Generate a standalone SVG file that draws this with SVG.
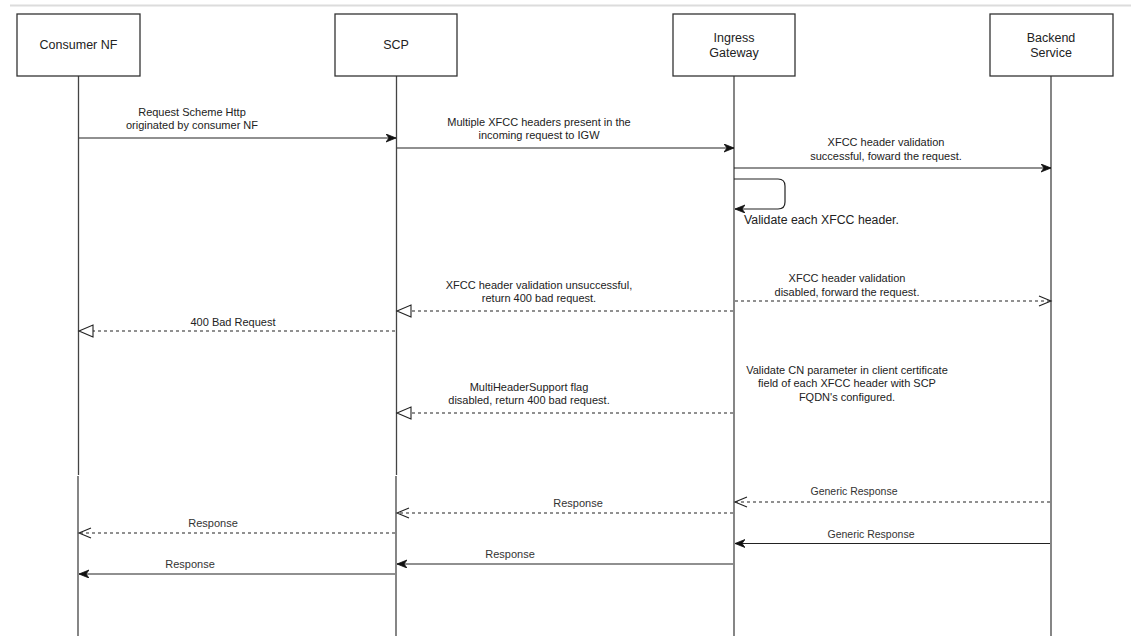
<svg xmlns="http://www.w3.org/2000/svg" width="1131" height="644" viewBox="0 0 1131 644">
<style>
  .box { fill: #ffffff; stroke: #333333; stroke-width: 1.3; }
  .life { stroke: #444444; stroke-width: 1.3; fill: none; }
  .msg { stroke: #222222; stroke-width: 1.2; fill: none; }
  .dash { stroke-dasharray: 3 3; }
  .nt { font-family: "Liberation Sans", Arial, sans-serif; font-size: 12.5px; fill: #222222; text-anchor: middle; }
  .lb { font-family: "Liberation Sans", Arial, sans-serif; font-size: 11px; fill: #222222; text-anchor: middle; }
  .sm { font-family: "Liberation Sans", Arial, sans-serif; font-size: 11px; fill: #333333; text-anchor: middle; }
  .gr { font-family: "Liberation Sans", Arial, sans-serif; font-size: 10.5px; fill: #333333; text-anchor: middle; }
</style>
<defs>
  <marker id="fill" markerUnits="userSpaceOnUse" markerWidth="12" markerHeight="10" refX="10" refY="4" orient="auto">
    <path d="M0,0 L10,4 L0,8 L3,4 Z" fill="#111111" stroke="#111111" stroke-width="0.8"/>
  </marker>
  <marker id="tri" markerUnits="userSpaceOnUse" markerWidth="18" markerHeight="16" refX="15" refY="7" orient="auto">
    <path d="M1,1 L15,7 L1,13 Z" fill="#ffffff" stroke="#222222" stroke-width="1.1"/>
  </marker>
  <marker id="open" markerUnits="userSpaceOnUse" markerWidth="16" markerHeight="14" refX="13" refY="6" orient="auto">
    <path d="M1,1 L13,6 L1,11" fill="none" stroke="#222222" stroke-width="1.1"/>
  </marker>
</defs>
<rect width="1131" height="644" fill="#ffffff"/>
<line x1="10" y1="5.5" x2="1131" y2="5.5" stroke="#dcdcdc" stroke-width="2"/>

<g id="lifelines">
  <line class="life" x1="78.5" y1="76" x2="78.5" y2="475"/>
  <line class="life" x1="78" y1="476" x2="78" y2="636"/>
  <line class="life" x1="396.5" y1="76" x2="396.5" y2="475"/>
  <line class="life" x1="396" y1="476" x2="396" y2="636"/>
  <line class="life" x1="734" y1="76" x2="734" y2="636"/>
  <line class="life" x1="1051" y1="76" x2="1051" y2="636"/>
</g>

<g id="consumer-nf">
  <rect class="box" x="17" y="14" width="123" height="62"/>
  <text class="nt" x="78.5" y="49">Consumer NF</text>
</g>
<g id="scp">
  <rect class="box" x="335" y="14" width="122" height="62"/>
  <text class="nt" x="396" y="49">SCP</text>
</g>
<g id="ingress-gateway">
  <rect class="box" x="673" y="14" width="122" height="62"/>
  <text class="nt" x="734" y="42">Ingress</text>
  <text class="nt" x="734" y="57">Gateway</text>
</g>
<g id="backend-service">
  <rect class="box" x="990" y="14" width="123" height="62"/>
  <text class="nt" x="1051" y="42">Backend</text>
  <text class="nt" x="1051" y="57">Service</text>
</g>

<g id="connectors">
  <line class="msg" x1="79" y1="138" x2="396" y2="138" marker-end="url(#fill)"/>
  <line class="msg" x1="397" y1="148" x2="734" y2="148" marker-end="url(#fill)"/>
  <line class="msg" x1="734" y1="168" x2="1051" y2="168" marker-end="url(#fill)"/>
  <path class="msg" d="M734,179 L778,179 Q785,179 785,186 L785,202 Q785,209 778,209 L735,209" marker-end="url(#fill)"/>
  <line class="msg dash" x1="733" y1="311" x2="397" y2="311" marker-end="url(#tri)"/>
  <line class="msg dash" x1="735" y1="301" x2="1051" y2="301" marker-end="url(#open)"/>
  <line class="msg dash" x1="395" y1="331" x2="79" y2="331" marker-end="url(#tri)"/>
  <line class="msg dash" x1="733" y1="413" x2="397" y2="413" marker-end="url(#tri)"/>
  <line class="msg dash" x1="1050" y1="502" x2="735" y2="502" marker-end="url(#open)"/>
  <line class="msg dash" x1="733" y1="513" x2="397" y2="513" marker-end="url(#open)"/>
  <line class="msg dash" x1="395" y1="533" x2="79" y2="533" marker-end="url(#open)"/>
  <line class="msg" x1="1050" y1="543.5" x2="735" y2="543.5" marker-end="url(#fill)"/>
  <line class="msg" x1="733" y1="564" x2="397" y2="564" marker-end="url(#fill)"/>
  <line class="msg" x1="395" y1="574" x2="79" y2="574" marker-end="url(#fill)"/>
</g>

<g id="labels">
  <text class="lb" x="192" y="116">Request Scheme Http</text>
  <text class="lb" x="192" y="129">originated by consumer NF</text>
  <text class="lb" x="539" y="126">Multiple XFCC headers present in the</text>
  <text class="lb" x="539" y="139">incoming request to IGW</text>
  <text class="lb" x="886" y="146">XFCC header validation</text>
  <text class="lb" x="886" y="160">successful, foward the request.</text>
  <text x="744" y="224" font-family="Liberation Sans, Arial, sans-serif" font-size="12.3px" fill="#222222">Validate each XFCC header.</text>
  <text class="lb" x="539" y="289">XFCC header validation unsuccessful,</text>
  <text class="lb" x="539" y="302">return 400 bad request.</text>
  <text class="lb" x="847" y="282">XFCC header validation</text>
  <text class="lb" x="847" y="296">disabled, forward the request.</text>
  <text class="lb" x="233" y="326">400 Bad Request</text>
  <text class="lb" x="847" y="374">Validate CN parameter in client certificate</text>
  <text class="lb" x="847" y="387">field of each XFCC header with SCP</text>
  <text class="lb" x="847" y="401">FQDN's configured.</text>
  <text class="lb" x="529" y="391">MultiHeaderSupport flag</text>
  <text class="lb" x="529" y="404">disabled, return 400 bad request.</text>
  <text class="gr" x="854" y="495">Generic Response</text>
  <text class="sm" x="578" y="507">Response</text>
  <text class="sm" x="213" y="527">Response</text>
  <text class="gr" x="871" y="538">Generic Response</text>
  <text class="sm" x="510" y="558">Response</text>
  <text class="sm" x="190" y="568">Response</text>
</g>
</svg>
